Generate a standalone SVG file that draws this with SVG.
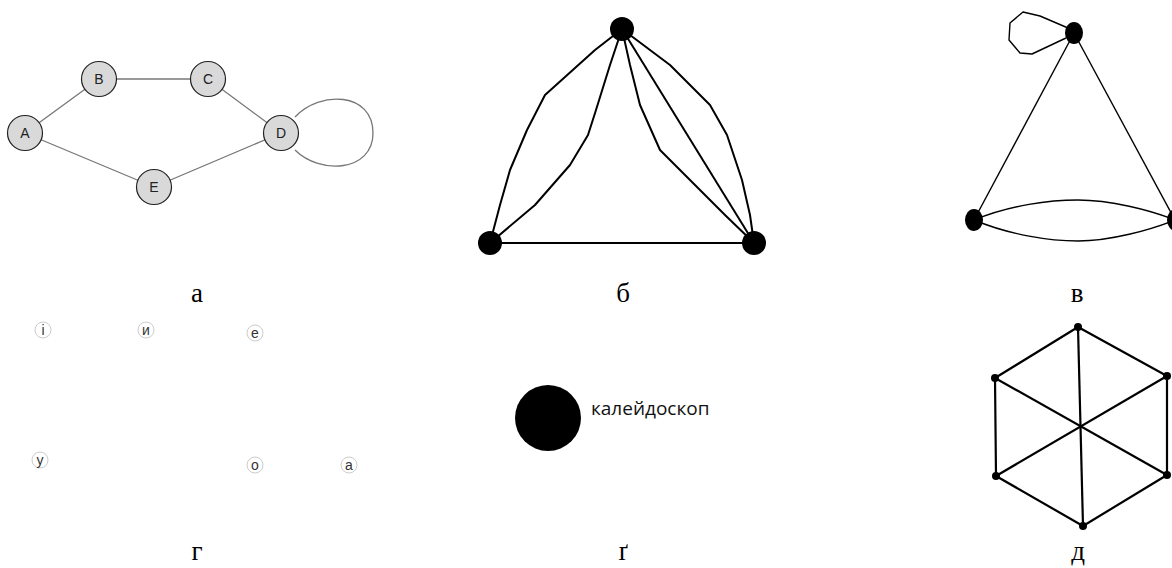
<svg xmlns="http://www.w3.org/2000/svg" width="1172" height="568" viewBox="0 0 1172 568">
<style>
.lbl{font-family:"Liberation Serif",serif;font-size:27px;fill:#000;text-anchor:middle}
.gn{fill:#d9d9d9;stroke:#222;stroke-width:1.2}
.gt{font-family:"Liberation Sans",Arial,sans-serif;font-size:14px;fill:#222;text-anchor:middle;dominant-baseline:central}
.ge{fill:none;stroke:#777;stroke-width:1.3}
.bk{fill:none;stroke:#000;stroke-width:2;stroke-linejoin:round}
.hx{fill:none;stroke:#000;stroke-width:2.2;stroke-linejoin:round}
.thin{fill:none;stroke:#000;stroke-width:1.4;stroke-linejoin:round}
.dot{fill:#000}
.vc{fill:#fff;stroke:#ccc;stroke-width:1}
.vt{font-family:"Liberation Sans",Arial,sans-serif;font-size:14px;fill:#333;text-anchor:middle;dominant-baseline:central}
</style>
<rect width="1172" height="568" fill="#fff"/>
<g id="connectors">
  <line class="ge" x1="25" y1="133" x2="99" y2="79"/>
  <line class="ge" x1="99" y1="79" x2="208" y2="79"/>
  <line class="ge" x1="208" y1="79" x2="281" y2="133"/>
  <line class="ge" x1="25" y1="133" x2="154" y2="187"/>
  <line class="ge" x1="154" y1="187" x2="281" y2="133"/>
  <path class="ge" d="M295,117 C320,90 373,92 373,133 C373,172 320,175 295,150"/>
  <path class="bk" d="M622,29 L595,50 L545,95 L527,130 L510,170 L500,205 L490,243"/>
  <path class="bk" d="M622,29 L610,65 L596,110 L588,135 L570,165 L535,205 L490,243"/>
  <path class="bk" d="M622,29 L630,65 L640,105 L660,150 L695,185 L725,215 L754,243"/>
  <line class="bk" x1="622" y1="29" x2="754" y2="243"/>
  <path class="bk" d="M622,29 L670,65 L710,105 L727,135 L742,180 L750,215 L754,243"/>
  <line class="bk" x1="490" y1="243" x2="754" y2="243"/>
  <line class="thin" x1="1074" y1="33" x2="974" y2="220"/>
  <line class="thin" x1="1074" y1="33" x2="1175" y2="220"/>
  <path class="thin" d="M1066,38 L1032,54 L1020,53 L1009,40 L1010,23 L1023,12 L1040,16 L1068,28"/>
  <path class="thin" d="M974,220 C1010,205 1050,200 1078,200 C1110,200 1150,210 1175,220"/>
  <path class="thin" d="M974,220 C1010,235 1050,241 1078,241 C1110,241 1150,230 1175,220"/>
  <polygon class="hx" points="1078,327 1167,376 1167,475 1083,526 996,476 995,378"/>
  <line class="hx" x1="1078" y1="327" x2="1083" y2="526"/>
  <line class="hx" x1="995" y1="378" x2="1167" y2="475"/>
  <line class="hx" x1="1167" y1="376" x2="996" y2="476"/>
</g>
<g id="node-A"><circle class="gn" cx="25" cy="133" r="17.5"/><text class="gt" x="25" y="133">A</text></g>
<g id="node-B"><circle class="gn" cx="99" cy="79" r="17.5"/><text class="gt" x="99" y="79">B</text></g>
<g id="node-C"><circle class="gn" cx="208" cy="79" r="17.5"/><text class="gt" x="208" y="79">C</text></g>
<g id="node-D"><circle class="gn" cx="281" cy="133" r="17.5"/><text class="gt" x="281" y="133">D</text></g>
<g id="node-E"><circle class="gn" cx="154" cy="187" r="17.5"/><text class="gt" x="154" y="187">E</text></g>
<g id="b-nodes">
  <circle class="dot" cx="622" cy="29" r="12"/>
  <circle class="dot" cx="490" cy="243" r="12"/>
  <circle class="dot" cx="754" cy="243" r="12"/>
</g>
<g id="v-nodes">
  <ellipse class="dot" cx="1074" cy="33" rx="9" ry="11"/>
  <ellipse class="dot" cx="974" cy="220" rx="9" ry="11"/>
  <ellipse class="dot" cx="1176" cy="220" rx="9" ry="11"/>
</g>
<g id="g-nodes">
  <g id="v-i"><circle class="vc" cx="43" cy="330" r="8"/><text class="vt" x="43" y="330">і</text></g>
  <g id="v-y"><circle class="vc" cx="146" cy="330" r="8"/><text class="vt" x="146" y="330">и</text></g>
  <g id="v-e"><circle class="vc" cx="255" cy="333" r="8"/><text class="vt" x="255" y="333">е</text></g>
  <g id="v-u"><circle class="vc" cx="40" cy="460" r="8"/><text class="vt" x="40" y="460">у</text></g>
  <g id="v-o"><circle class="vc" cx="255" cy="465" r="8"/><text class="vt" x="255" y="465">о</text></g>
  <g id="v-a"><circle class="vc" cx="349" cy="465" r="8"/><text class="vt" x="349" y="465">а</text></g>
</g>
<g id="kaleidoscope">
  <circle class="dot" cx="548" cy="418" r="33"/>
  <text x="591" y="415" font-family="'Open Sans',sans-serif" font-size="19" fill="#111">калейдоскоп</text>
</g>
<g id="d-nodes">
  <circle class="dot" cx="1078" cy="327" r="4"/>
  <circle class="dot" cx="1167" cy="376" r="4"/>
  <circle class="dot" cx="1167" cy="475" r="4"/>
  <circle class="dot" cx="1083" cy="526" r="4"/>
  <circle class="dot" cx="996" cy="476" r="4"/>
  <circle class="dot" cx="995" cy="378" r="4"/>
</g>
<g id="labels">
  <text class="lbl" x="197" y="302">а</text>
  <text class="lbl" x="623" y="302">б</text>
  <text class="lbl" x="1077" y="302">в</text>
  <text class="lbl" x="197" y="560">г</text>
  <text class="lbl" x="623" y="560">ґ</text>
  <text class="lbl" x="1078" y="560">д</text>
</g>
</svg>
